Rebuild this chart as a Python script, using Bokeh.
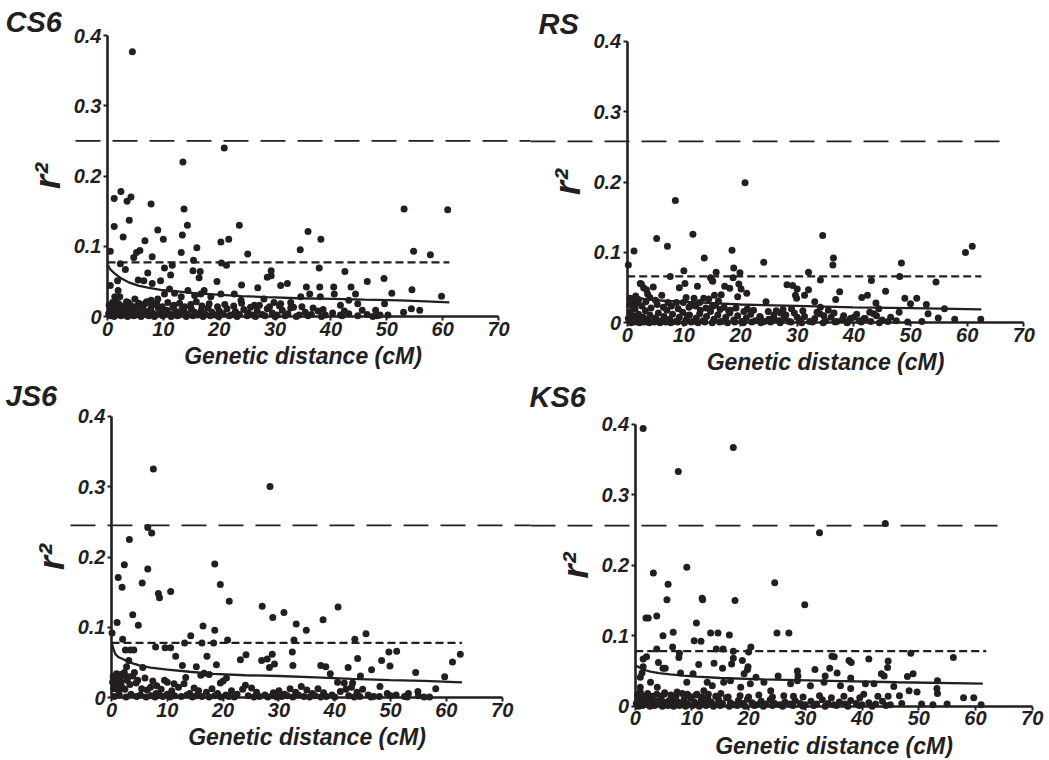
from bokeh.plotting import figure
from bokeh.models import Range1d, FixedTicker, Label, LinearAxis
from bokeh.embed import file_html
from bokeh.resources import INLINE

INK = "#231f20"
FONT = "Liberation Sans"

x_ticks = [0, 10, 20, 30, 40, 50, 60, 70]
y_ticks = [0, 0.1, 0.2, 0.3, 0.4]
y_tick_labels = ["0", "0.1", "0.2", "0.3", "0.4"]
x_axis_title = "Genetic distance (cM)"
y_axis_title = "r²"

panel_names = ["CS6", "RS", "JS6", "KS6"]

# ---------------- CS6 ----------------
cs6_pts = [(4.45,0.377),(20.9,0.240),(13.5,0.220),(1.2,0.168),(2.4,0.178),(3.5,0.164),(4.2,0.170),(7.8,0.160),(13.7,0.153),(53.1,0.153),
           (60.9,0.152),(1.2,0.128),(2.8,0.113),(3.9,0.137),(9.0,0.123),(14.3,0.130),(13.4,0.116),(10.0,0.110),(6.7,0.108),(20.3,0.106),
           (21.7,0.110),(23.6,0.130),(35.9,0.121),(38.2,0.110),(34.5,0.095),(0.5,0.093),(4.7,0.084),(5.2,0.091),(5.8,0.094),(13.2,0.091),
           (16.0,0.098),(25.1,0.089),(54.8,0.093),(57.8,0.088),(8.0,0.085),(3.2,0.067),(2.3,0.075),(10.2,0.069),(11.6,0.073),(15.4,0.080),
           (16.6,0.064),(15.3,0.065),(20.4,0.076),(21.3,0.073),(29.3,0.065),(37.9,0.069),(42.5,0.064),(7.2,0.062),(5.5,0.052),(6.5,0.051),
           (1.8,0.051),(0.5,0.044),(8.0,0.047),(9.5,0.051),(11.3,0.059),(16.4,0.055),(19.6,0.050),(24.0,0.045),(26.9,0.041),(28.6,0.056),
           (29.3,0.058),(31.0,0.044),(32.2,0.047),(43.6,0.042),(46.5,0.050),(49.5,0.054),(54.5,0.038),(59.8,0.029),(50.9,0.033),(35.6,0.042),
           (38.0,0.042),(40.5,0.042),(40.6,0.032),(44.4,0.032),(43.2,0.023),(44.8,0.018),(49.6,0.018),(41.7,0.016),(48.0,0.009),(53.0,0.006),
           (54.4,0.011),(55.9,0.009),(48.8,0.002),(34.6,0.028),(36.2,0.032),(38.1,0.028),(32.8,0.020),(31.0,0.018),(29.8,0.020),(28.0,0.025),
           (26.3,0.016),(23.9,0.023),(22.7,0.032),(20.3,0.032),(18.5,0.028),(17.3,0.037),(16.7,0.032),(15.6,0.030),(14.4,0.037),(13.2,0.028),
           (12.0,0.033),(11.1,0.039),(10.2,0.032),(9.0,0.025),(7.8,0.023),(6.7,0.018),(4.9,0.025),(3.7,0.020),(2.2,0.028),(1.3,0.028),(1.9,0.037)]
cs6_low = [(0.2,0.004),(0.5,0.010),(0.8,0.002),(1.0,0.007),(1.3,0.013),(1.6,0.003),(1.9,0.009),(2.2,0.005),(2.6,0.012),(3.0,0.002),
           (3.3,0.008),(3.7,0.004),(4.1,0.011),(4.5,0.006),(5.0,0.002),(5.4,0.009),(5.9,0.004),(6.3,0.013),(6.8,0.007),(7.2,0.002),
           (7.7,0.010),(8.1,0.005),(8.6,0.003),(9.1,0.012),(9.5,0.006),(10.0,0.002),(10.6,0.009),(11.1,0.004),(11.7,0.013),(12.2,0.007),
           (12.8,0.002),(13.3,0.010),(13.9,0.005),(14.4,0.003),(15.0,0.011),(15.6,0.006),(16.2,0.002),(16.8,0.009),(17.4,0.004),(18.0,0.012),
           (18.7,0.006),(19.3,0.002),(20.0,0.008),(20.7,0.004),(21.4,0.011),(22.1,0.002),(22.9,0.007),(23.6,0.003),(24.4,0.010),(25.2,0.005),
           (26.0,0.002),(26.8,0.008),(27.7,0.003),(28.6,0.011),(29.5,0.005),(30.4,0.002),(31.3,0.009),(32.3,0.004),(33.3,0.013),(34.3,0.002),
           (35.4,0.006),(36.5,0.003),(37.7,0.008),(39.0,0.002),(40.3,0.005),(41.7,0.002),(43.2,0.004),(44.8,0.001),(46.5,0.003),(48.3,0.001),
           (50.2,0.002),(0.3,0.016),(0.9,0.020),(1.5,0.024),(2.0,0.018),(2.9,0.015),(3.4,0.021),(4.0,0.017),(4.8,0.014),(5.6,0.019),
           (6.1,0.016),(7.0,0.021),(7.9,0.015),(8.8,0.018),(9.8,0.014),(10.8,0.020),(11.9,0.016),(12.9,0.019),(13.8,0.014),(14.9,0.017),
           (15.9,0.021),(16.9,0.015),(18.2,0.018),(19.7,0.014),(21.0,0.017),(22.6,0.015),(24.0,0.019),(25.6,0.013),(27.2,0.016),(29.0,0.014),
           (30.8,0.015),(32.8,0.012),(34.8,0.014),(36.8,0.012),(38.6,0.010),(42.4,0.008),(45.6,0.009),(0.6,0.001),(1.2,0.000),(2.4,0.001),
           (3.6,0.000),(4.7,0.001),(6.0,0.000),(7.4,0.001),(8.4,0.000),(9.9,0.001),(11.4,0.000),(12.5,0.001),(14.1,0.000),(15.3,0.001),
           (17.1,0.000),(18.4,0.001),(19.9,0.000),(21.8,0.001),(23.2,0.000),(25.0,0.001),(26.5,0.000),(28.2,0.001),(30.0,0.000),(31.8,0.001),
           (33.8,0.000),(35.9,0.001),(38.3,0.000),(42.0,0.001),(47.5,0.000)]
cs6_curve_x = [0.1, 0.5, 1.3, 2.5, 3.7, 5.5, 7.2, 9.5, 12.0, 16.0, 19.7, 24.0, 28.6, 34.0, 40.5, 46.0, 52.4, 57.0, 61.2]
cs6_curve_y = [0.073, 0.067, 0.061, 0.054, 0.049, 0.044, 0.041, 0.038, 0.036, 0.033, 0.031, 0.029, 0.0275, 0.026, 0.025, 0.024, 0.023, 0.0215, 0.020]
cs6_threshold = 0.077
cs6_threshold_end = 61.2
cs6_long = 0.250

# ---------------- RS ----------------
rs_pts = [(20.8,0.199),(8.5,0.174),(11.6,0.126),(34.5,0.124),(5.2,0.120),(7.1,0.109),(1.2,0.102),(18.5,0.103),(59.7,0.100),(60.9,0.109),
          (0.2,0.082),(13.6,0.092),(24.1,0.086),(36.4,0.092),(36.3,0.082),(48.4,0.085),(18.8,0.078),(10.0,0.074),(7.6,0.066),(15.7,0.072),
          (14.7,0.064),(18.7,0.064),(19.9,0.071),(32.0,0.072),(34.1,0.061),(48.1,0.066),(43.1,0.060),(54.5,0.058),(9.2,0.050),(10.2,0.056),
          (12.4,0.052),(15.1,0.059),(17.2,0.052),(18.1,0.049),(19.7,0.055),(20.1,0.048),(21.1,0.042),(19.5,0.037),(28.2,0.054),(29.2,0.053),
          (30.0,0.048),(29.7,0.039),(29.9,0.035),(31.3,0.039),(32.0,0.047),(33.1,0.030),(37.5,0.044),(36.8,0.033),(41.4,0.036),(42.4,0.039),
          (45.6,0.045),(49.0,0.035),(51.1,0.035),(50.0,0.027),(52.8,0.026),(53.1,0.013),(56.0,0.020),(48.0,0.015),(46.5,0.008),(43.9,0.028),
          (44.4,0.020),(42.8,0.015),(54.9,0.007),(57.8,0.005),(62.4,0.005),(6.1,0.039),(4.6,0.051),(2.5,0.055),(2.9,0.050),(3.4,0.047),
          (3.6,0.041),(24.5,0.030),(24.9,0.016),(28.0,0.011),(27.1,0.014),(16.6,0.040),(16.1,0.031),(13.5,0.035),(11.8,0.035),(10.4,0.036),
          (9.9,0.029),(8.7,0.029),(7.2,0.029),(14.4,0.034),(15.4,0.039),(11.2,0.025),(10.6,0.010),(12.9,0.018),(17.1,0.022),(18.2,0.018),
          (21.2,0.020),(23.5,0.008),(25.9,0.006),(30.0,0.008),(34.7,0.010),(38.2,0.010),(39.4,0.006),(41.8,0.006),(34.1,0.022),(0.5,0.035),
          (1.0,0.030),(1.5,0.038),(2.0,0.033),(0.8,0.025),(4.0,0.036),(5.0,0.032),(2.3,0.056),(15.0,0.060),(12.8,0.029),(15.0,0.023)]
rs_low = [(0.2,0.006),(0.5,0.015),(0.8,0.003),(1.1,0.010),(1.4,0.020),(1.7,0.005),(2.0,0.012),(2.4,0.002),(2.8,0.008),(3.2,0.017),
          (3.6,0.004),(4.0,0.011),(4.5,0.002),(5.0,0.007),(5.5,0.014),(6.0,0.003),(6.5,0.009),(7.0,0.018),(7.5,0.005),(8.0,0.012),
          (8.6,0.002),(9.2,0.008),(9.8,0.015),(10.4,0.004),(11.0,0.011),(11.6,0.002),(12.2,0.007),(12.8,0.013),(13.4,0.003),(14.0,0.009),
          (14.7,0.016),(15.3,0.005),(16.0,0.011),(16.7,0.002),(17.4,0.008),(18.1,0.014),(18.8,0.004),(19.5,0.010),(20.2,0.002),(21.0,0.007),
          (21.8,0.012),(22.6,0.003),(23.4,0.009),(24.2,0.002),(25.0,0.005),(25.9,0.011),(26.8,0.003),(27.7,0.007),(28.6,0.002),(29.5,0.014),
          (30.4,0.004),(31.3,0.009),(32.2,0.002),(33.1,0.006),(34.0,0.013),(35.0,0.003),(36.0,0.008),(37.0,0.002),(38.0,0.005),(39.0,0.002),
          (40.0,0.008),(41.0,0.003),(42.0,0.006),(43.0,0.002),(44.0,0.010),(45.0,0.004),(46.0,0.002),(47.5,0.003),(49.5,0.001),(52.0,0.002),
          (0.4,0.026),(1.0,0.022),(1.9,0.028),(2.6,0.024),(3.3,0.030),(4.2,0.021),(5.3,0.026),(6.4,0.022),(7.8,0.024),(9.0,0.020),
          (10.9,0.022),(12.1,0.024),(13.9,0.021),(15.6,0.025),(16.4,0.019),(17.9,0.017),(19.2,0.021),(20.6,0.016),(22.3,0.018),(26.3,0.017),
          (27.5,0.019),(29.0,0.020),(31.0,0.017),(33.5,0.015),(35.5,0.018),(36.5,0.014),(40.5,0.012),(43.5,0.013),
          (0.7,0.000),(1.5,0.001),(2.2,0.000),(3.0,0.001),(3.9,0.000),(4.8,0.001),(5.8,0.000),(6.8,0.001),(7.7,0.000),(8.9,0.001),
          (10.1,0.000),(11.3,0.001),(12.5,0.000),(13.7,0.001),(15.0,0.000),(16.3,0.001),(17.7,0.000),(19.0,0.001),(20.5,0.000),(22.0,0.001),
          (23.6,0.000),(25.3,0.001),(27.0,0.000),(28.9,0.001),(30.8,0.000),(32.7,0.001),(34.6,0.000),(36.7,0.001),(38.8,0.000),(41.3,0.001),
          (44.5,0.000)]
rs_curve_x = [0.0, 0.5, 1.0, 2.0, 4.0, 7.0, 10.0, 15.0, 20.0, 30.0, 40.0, 50.0, 62.5]
rs_curve_y = [0.039, 0.037, 0.036, 0.035, 0.033, 0.031, 0.030, 0.028, 0.026, 0.024, 0.022, 0.021, 0.019]
rs_threshold = 0.066
rs_threshold_end = 62.5
rs_long = 0.258

# ---------------- JS6 ----------------
js6_pts = [(7.5,0.325),(28.4,0.300),(6.5,0.242),(7.2,0.234),(3.2,0.225),(2.3,0.189),(1.2,0.171),(1.9,0.157),(6.5,0.183),(5.5,0.163),
           (8.4,0.148),(8.6,0.142),(10.6,0.151),(18.5,0.190),(19.5,0.161),(21.1,0.137),(27.0,0.130),(28.9,0.114),(30.9,0.121),(40.6,0.129),
           (37.9,0.111),(33.1,0.105),(34.9,0.096),(45.6,0.091),(1.0,0.107),(3.8,0.118),(4.8,0.103),(0.1,0.092),(16.4,0.102),(18.5,0.096),
           (14.2,0.088),(32.7,0.082),(43.6,0.083),(2.0,0.083),(20.8,0.082),(13.1,0.078),(16.2,0.078),(18.3,0.078),(7.9,0.072),(9.6,0.071),
           (10.6,0.071),(2.5,0.068),(3.4,0.068),(4.0,0.068),(3.1,0.053),(2.7,0.044),(5.6,0.043),(11.5,0.059),(12.7,0.046),(15.2,0.044),
           (17.1,0.059),(18.8,0.047),(23.1,0.054),(24.1,0.061),(26.9,0.053),(27.9,0.055),(28.8,0.062),(29.2,0.048),(28.3,0.043),(32.4,0.065),
           (32.5,0.046),(37.5,0.046),(38.4,0.044),(42.4,0.043),(44.1,0.056),(46.6,0.040),(48.4,0.053),(49.7,0.065),(49.9,0.045),(51.1,0.066),
           (54.5,0.036),(59.7,0.030),(61.1,0.051),(62.5,0.062),(44.6,0.031),(39.2,0.034),(40.5,0.022),(41.7,0.021),(43.2,0.021),(48.1,0.016),
           (58.1,0.013),(53.2,0.006),(54.9,0.009),(56.0,0.001),(49.4,0.006),(50.0,0.003),(16.0,0.032),(13.3,0.029),(10.0,0.022),(11.2,0.020),
           (7.0,0.015),(8.1,0.017),(16.6,0.035),(17.5,0.033),(20.6,0.028),(20.0,0.024),(24.0,0.018),(25.1,0.014),(19.5,0.021)]
js6_low = [(0.3,0.030),(0.6,0.024),(0.9,0.034),(1.2,0.020),(1.5,0.028),(1.8,0.016),(2.1,0.031),(0.4,0.013),(0.8,0.018),(1.3,0.010),
           (1.7,0.022),(2.4,0.012),(2.8,0.025),(3.3,0.019),(3.8,0.031),(4.4,0.021),(0.2,0.022),(1.0,0.026),(1.6,0.033),(2.3,0.036),
           (3.0,0.030),(4.1,0.036),(4.7,0.025),(5.4,0.013),(6.0,0.028),(6.4,0.011),(7.4,0.024),(8.0,0.006),(8.9,0.012),(9.5,0.025),
           (10.8,0.010),(12.0,0.015),(13.0,0.020),(14.0,0.006),(14.8,0.014),(15.6,0.010),(17.0,0.008),(18.0,0.013),(19.0,0.006),(21.5,0.010),
           (22.5,0.005),(23.5,0.012),(26.0,0.008),(27.5,0.004),(29.0,0.007),(30.0,0.010),(31.0,0.005),(32.0,0.013),(33.0,0.008),(34.0,0.016),
           (35.0,0.011),(36.0,0.006),(37.0,0.013),(38.0,0.007),(39.5,0.004),(41.0,0.009),(42.0,0.012),(43.0,0.015),(44.0,0.008),(45.0,0.012),
           (46.0,0.004),(47.0,0.002),(51.0,0.004),(52.5,0.002),(57.0,0.001),
           (0.5,0.002),(1.4,0.004),(2.6,0.001),(3.5,0.005),(4.5,0.002),(5.2,0.004),(6.2,0.001),(7.1,0.003),(7.8,0.001),(8.5,0.004),
           (9.2,0.002),(10.0,0.005),(10.5,0.001),(11.3,0.003),(12.5,0.002),(13.5,0.004),(14.5,0.001),(15.2,0.003),(16.2,0.002),(17.5,0.001),
           (18.5,0.003),(19.6,0.001),(20.5,0.004),(21.0,0.002),(22.0,0.001),(24.5,0.003),(25.5,0.001),(26.5,0.002),(28.0,0.001),(28.8,0.003),
           (29.6,0.001),(30.5,0.002),(31.5,0.003),(32.5,0.001),(33.5,0.004),(34.5,0.002),(35.5,0.001),(36.5,0.003),(37.5,0.001),(38.5,0.002),
           (40.0,0.001),(42.5,0.003),(43.5,0.001),(44.5,0.002),(46.5,0.001),(48.0,0.002),(53.0,0.001),(55.0,0.003)]
js6_curve_x = [0.1, 0.4, 0.7, 1.2, 2.0, 2.8, 3.8, 5.0, 7.0, 10.0, 14.0, 18.3, 24.0, 30.0, 36.6, 43.0, 50.0, 56.0, 62.8]
js6_curve_y = [0.076, 0.068, 0.062, 0.058, 0.055, 0.052, 0.049, 0.046, 0.043, 0.040, 0.037, 0.034, 0.032, 0.031, 0.029, 0.027, 0.025, 0.024, 0.022]
js6_threshold = 0.078
js6_threshold_end = 62.8
js6_long = 0.245

# ---------------- KS6 ----------------
ks6_pts = [(1.4,0.394),(17.3,0.367),(7.6,0.333),(44.1,0.259),(32.5,0.246),(3.2,0.189),(9.1,0.197),(5.8,0.173),(24.6,0.175),(5.6,0.151),
           (11.8,0.153),(11.9,0.151),(17.6,0.150),(29.9,0.144),(1.9,0.125),(2.3,0.125),(3.8,0.128),(10.8,0.118),(6.7,0.105),(4.9,0.100),
           (13.3,0.104),(14.6,0.104),(16.6,0.101),(25.0,0.104),(27.1,0.104),(10.4,0.093),(11.6,0.092),(3.8,0.081),(6.6,0.084),(7.8,0.075),
           (7.7,0.069),(14.3,0.081),(15.5,0.081),(17.3,0.078),(17.3,0.068),(20.4,0.084),(20.0,0.077),(18.9,0.065),(34.7,0.071),(35.1,0.070),
           (37.7,0.065),(38.1,0.062),(41.2,0.067),(44.6,0.064),(44.5,0.055),(48.6,0.075),(56.1,0.069),(1.4,0.067),(2.0,0.070),(1.4,0.056),
           (1.2,0.047),(0.9,0.041),(4.1,0.062),(4.9,0.054),(5.3,0.054),(8.0,0.047),(9.1,0.034),(10.2,0.046),(11.2,0.059),(13.9,0.061),
           (15.4,0.054),(17.0,0.060),(19.9,0.056),(19.8,0.052),(19.2,0.046),(21.3,0.041),(25.2,0.043),(28.6,0.050),(28.7,0.043),(31.7,0.052),
           (33.5,0.043),(34.3,0.054),(35.6,0.047),(38.0,0.040),(40.6,0.032),(42.1,0.032),(43.9,0.043),(43.4,0.046),(48.0,0.042),(49.0,0.046),
           (48.3,0.022),(49.7,0.020),(53.3,0.036),(53.2,0.025),(53.3,0.018),(57.9,0.012),(59.7,0.012),(45.6,0.028),(44.6,0.014),(46.6,0.015),
           (40.3,0.017),(38.0,0.025),(36.2,0.029),(33.3,0.034),(30.9,0.029),(28.6,0.036),(27.4,0.032),(26.2,0.015),(23.9,0.022),(22.7,0.034),
           (20.3,0.032),(18.6,0.027),(16.8,0.036),(15.6,0.034),(13.6,0.029),(12.7,0.034),(12.1,0.022),(10.9,0.017),(9.2,0.017),(7.4,0.020),
           (5.1,0.017),(3.9,0.027),(2.7,0.034),(0.9,0.027)]
ks6_low = [(0.2,0.004),(0.5,0.010),(0.8,0.002),(1.1,0.007),(1.4,0.012),(1.7,0.003),(2.0,0.009),(2.4,0.005),(2.8,0.011),(3.2,0.002),
           (3.6,0.007),(4.0,0.004),(4.5,0.010),(5.0,0.006),(5.5,0.002),(6.0,0.008),(6.5,0.004),(7.0,0.011),(7.5,0.006),(8.0,0.002),
           (8.6,0.009),(9.2,0.004),(9.8,0.012),(10.4,0.006),(11.0,0.002),(11.6,0.008),(12.2,0.004),(12.8,0.011),(13.4,0.006),(14.0,0.002),
           (14.7,0.009),(15.4,0.004),(16.1,0.012),(16.8,0.005),(17.5,0.002),(18.2,0.008),(19.0,0.004),(19.8,0.010),(20.6,0.005),(21.4,0.002),
           (22.2,0.007),(23.0,0.003),(23.8,0.009),(24.6,0.004),(25.5,0.002),(26.4,0.006),(27.3,0.003),(28.2,0.008),(29.1,0.004),(30.0,0.002),
           (31.0,0.007),(32.0,0.003),(33.0,0.009),(34.0,0.004),(35.0,0.002),(36.0,0.006),(37.0,0.003),(38.0,0.008),(39.0,0.004),(40.0,0.002),
           (41.2,0.005),(42.4,0.003),(43.6,0.007),(45.0,0.002),(47.0,0.004),(50.5,0.003),(52.5,0.002),(55.0,0.003),(61.0,0.002),
           (0.4,0.016),(0.9,0.020),(1.6,0.015),(2.2,0.018),(3.0,0.014),(3.8,0.017),(4.6,0.014),(5.2,0.019),(6.3,0.016),(7.2,0.014),
           (8.3,0.018),(9.6,0.014),(10.7,0.016),(11.8,0.013),(12.9,0.017),(14.2,0.014),(15.1,0.018),(16.4,0.013),(18.5,0.015),(20.0,0.013),
           (21.8,0.016),(24.2,0.013),(27.9,0.014),(29.6,0.013),(32.5,0.015),(34.6,0.012),(36.8,0.014),(39.6,0.012),(42.8,0.014),
           (0.6,0.000),(1.3,0.001),(2.6,0.000),(3.4,0.001),(4.8,0.000),(5.8,0.001),(6.8,0.000),(7.8,0.001),(8.9,0.000),(10.1,0.001),
           (11.3,0.000),(12.5,0.001),(13.8,0.000),(15.0,0.001),(16.6,0.000),(18.0,0.001),(19.4,0.000),(21.0,0.001),(22.6,0.000),(24.2,0.001),
           (26.0,0.000),(27.8,0.001),(29.6,0.000),(31.5,0.001),(33.5,0.000),(35.5,0.001),(37.5,0.000),(39.5,0.001),(41.8,0.000),(44.2,0.001)]
ks6_curve_x = [0.0, 0.5, 1.0, 1.8, 2.7, 4.2, 6.2, 8.5, 10.9, 15.0, 22.7, 34.4, 46.2, 61.3]
ks6_curve_y = [0.058, 0.056, 0.054, 0.051, 0.049, 0.047, 0.045, 0.0435, 0.042, 0.040, 0.038, 0.036, 0.034, 0.032]
ks6_threshold = 0.078
ks6_threshold_end = 61.9
ks6_long = 0.256

# ---------------- layout (page pixels) ----------------
W, H = 1045, 758

p = figure(width=W, height=H, output_backend="svg", toolbar_location=None,
           x_axis_location=None, y_axis_location=None,
           x_range=Range1d(0, W), y_range=Range1d(H, 0), min_border=0)
p.outline_line_color = None
p.xgrid.visible = False
p.ygrid.visible = False
p.background_fill_color = "white"
p.border_fill_color = "white"


def style_axis(ax):
    ax.axis_line_width = 2.6
    ax.axis_line_color = INK
    ax.major_tick_line_width = 2
    ax.major_tick_line_color = INK
    ax.major_tick_out = 4
    ax.major_tick_in = 0
    ax.minor_tick_out = 0
    ax.minor_tick_in = 0
    ax.major_label_text_font = FONT
    ax.major_label_text_font_style = "bold italic"
    ax.major_label_text_font_size = "20px"
    ax.major_label_text_color = INK
    ax.axis_label_text_font = FONT
    ax.axis_label_text_font_style = "bold italic"
    ax.axis_label_text_color = INK


def add_panel(key, name, pts, low, cx, cy, thr, thr_end, long_y, geo):
    x0, sx, y0, sy = geo["axis"]
    dl, dr = geo["dash"]
    tl, tt = geo["title"]
    p.extra_x_ranges[key] = Range1d((0 - x0) / sx, (W - x0) / sx)
    p.extra_y_ranges[key] = Range1d((y0 - H) / sy, (y0 - 0) / sy)
    rn = dict(x_range_name=key, y_range_name=key)

    xa = LinearAxis(fixed_location=0, bounds=(x_ticks[0], x_ticks[-1]),
                    ticker=FixedTicker(ticks=x_ticks), axis_label=x_axis_title, **rn)
    style_axis(xa)
    xa.axis_label_text_font_size = "23px"
    xa.major_label_standoff = 1
    xa.axis_label_standoff = 4
    p.add_layout(xa, "below")

    ya = LinearAxis(fixed_location=0, bounds=(y_ticks[0], y_ticks[-1]),
                    ticker=FixedTicker(ticks=y_ticks), axis_label=y_axis_title, **rn)
    style_axis(ya)
    ya.major_label_overrides = dict(zip(y_ticks, y_tick_labels))
    ya.axis_label_text_font_size = "36px"
    ya.major_label_standoff = 2
    ya.axis_label_standoff = 3
    p.add_layout(ya, "left")

    p.segment(x0=[(dl - x0) / sx], y0=[long_y], x1=[(dr - x0) / sx], y1=[long_y],
              line_color=INK, line_width=1.7, line_dash="25 12", **rn)
    p.line([x_ticks[0], thr_end], [thr, thr], line_color=INK, line_width=2.2, line_dash="8 4", **rn)
    p.line(cx, cy, line_color=INK, line_width=2.3, **rn)
    allp = pts + low
    p.scatter([q[0] for q in allp], [q[1] for q in allp], size=7,
              fill_color=INK, line_color=None, **rn)

    p.add_layout(Label(x=tl, y=tt, text=name, text_font=FONT, text_font_style="bold italic",
                       text_font_size="29px", text_color=INK, text_baseline="top", text_align="left"))


geo_cs6 = dict(axis=(107, 5.586, 316, 702.5), dash=(75, 530), title=(5, 5))
geo_rs = dict(axis=(626.7, 5.666, 322.3, 703.4), dash=(530, 1000), title=(538, 7))
geo_js6 = dict(axis=(111, 5.581, 697.3, 704.0), dash=(70, 530), title=(5, 379))
geo_ks6 = dict(axis=(634.7, 5.671, 705.7, 705.0), dash=(530, 997), title=(529, 380))

add_panel("cs6", panel_names[0], cs6_pts, cs6_low, cs6_curve_x, cs6_curve_y, cs6_threshold, cs6_threshold_end, cs6_long, geo_cs6)
add_panel("rs", panel_names[1], rs_pts, rs_low, rs_curve_x, rs_curve_y, rs_threshold, rs_threshold_end, rs_long, geo_rs)
add_panel("js6", panel_names[2], js6_pts, js6_low, js6_curve_x, js6_curve_y, js6_threshold, js6_threshold_end, js6_long, geo_js6)
add_panel("ks6", panel_names[3], ks6_pts, ks6_low, ks6_curve_x, ks6_curve_y, ks6_threshold, ks6_threshold_end, ks6_long, geo_ks6)

open("out.html", "w").write(file_html(p, INLINE))
